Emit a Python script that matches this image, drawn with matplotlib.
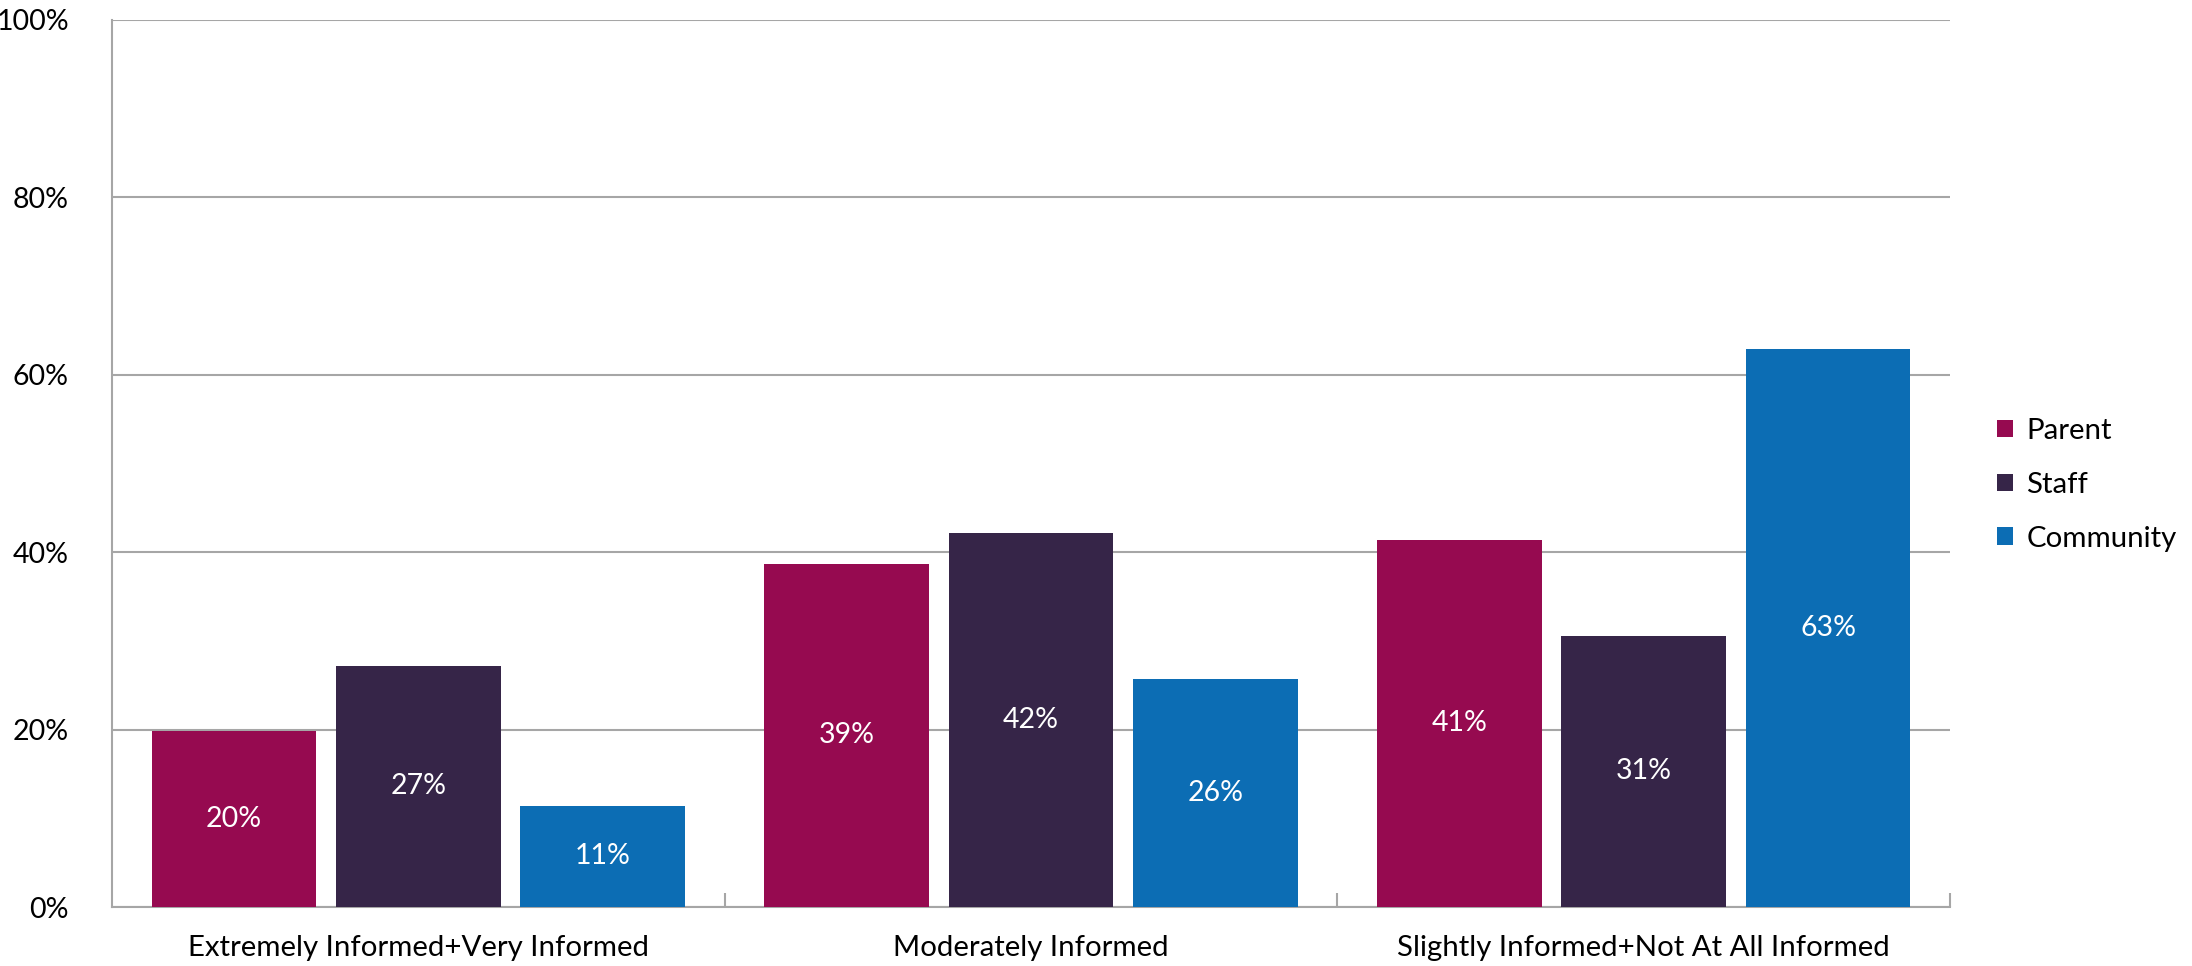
import matplotlib.pyplot as plt
import numpy as np

plt.rcParams['font.family'] = ['Lato', 'DejaVu Sans']

categories = ['Extremely Informed+Very Informed', 'Moderately Informed',
              'Slightly Informed+Not At All Informed']
series = ['Parent', 'Staff', 'Community']
parent = [19.8, 38.7, 41.4]
staff = [27.2, 42.2, 30.6]
community = [11.4, 25.7, 62.9]
colors = ['#960A50', '#362548', '#0C6DB4']
yticks = [0, 20, 40, 60, 80, 100]

grid_col = '#A6A6A6'

fig = plt.figure(figsize=(21.92, 9.66), dpi=100)
ax = fig.add_axes([112 / 2192, 59 / 966, 1838 / 2192, 887 / 966])

x = np.arange(len(categories))
w = 0.269
step = 0.301
for i, (name, vals, c) in enumerate(zip(series, [parent, staff, community], colors)):
    pos = x + (i - 1) * step
    bars = ax.bar(pos, vals, width=w, color=c, label=name, zorder=3)
    for b, v in zip(bars, vals):
        ax.text(b.get_x() + b.get_width() / 2, v / 2, f'{v:.0f}%',
                ha='center', va='center', color='white', fontsize=20.5, zorder=4)

ax.set_xlim(-0.5, len(categories) - 0.5)
ax.set_ylim(0, 100)
ax.set_yticks(yticks)
ax.set_yticklabels([f'{t}%' for t in yticks], fontsize=20.5)
ax.yaxis.grid(True, color=grid_col, linewidth=1.5, zorder=0)
ax.tick_params(axis='y', length=0, pad=31)

# category labels centred in each group, separators drawn as inward ticks
ax.set_xticks(x)
ax.set_xticklabels(categories, fontsize=21.2)
ax.tick_params(axis='x', length=0, pad=20)
ax.set_xticks(np.arange(0.5, len(categories) - 0.4, 1.0), minor=True)
ax.tick_params(axis='x', which='minor', direction='in', length=10, width=1.5, color=grid_col)

for s in ['top', 'right']:
    ax.spines[s].set_visible(False)
for s in ['left', 'bottom']:
    ax.spines[s].set_color(grid_col)
    ax.spines[s].set_linewidth(1.5)

leg = ax.legend(loc='center left', bbox_to_anchor=(1.011, 0.476), frameon=False,
                fontsize=21.2, handlelength=0.55, handleheight=0.55,
                handletextpad=0.45, labelspacing=0.95)

fig.savefig('out.png', dpi=100)
